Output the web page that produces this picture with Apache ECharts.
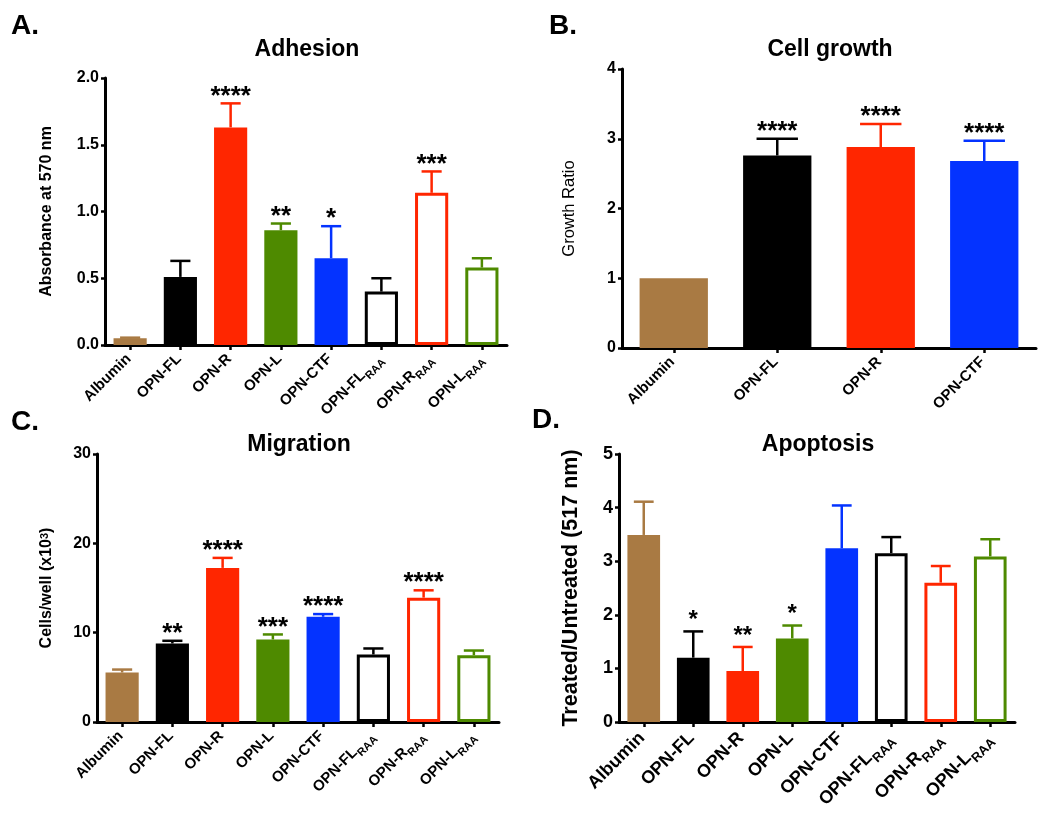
<!DOCTYPE html>
<html>
<head>
<meta charset="utf-8">
<script src="https://cdn.jsdelivr.net/npm/echarts@6/dist/echarts.min.js"></script>
<style>
html,body{margin:0;padding:0;background:#fff;}
#chart{width:1050px;height:824px;}
</style>
</head>
<body>
<div id="chart"></div>
<script>
// ---------- DATA ----------
const categories8 = ['Albumin','OPN-FL','OPN-R','OPN-L','OPN-CTF','OPN-FL_RAA','OPN-R_RAA','OPN-L_RAA'];
const categories4 = ['Albumin','OPN-FL','OPN-R','OPN-CTF'];

const adhesionMean  = [0.05, 0.51, 1.63, 0.86, 0.65, 0.40, 1.14, 0.58];
const adhesionErr   = [0.005, 0.12, 0.18, 0.05, 0.24, 0.10, 0.16, 0.07];
const adhesionStars = ['', '', '****', '**', '*', '', '***', ''];

const growthMean  = [1.0, 2.76, 2.88, 2.68];
const growthErr   = [0, 0.24, 0.33, 0.29];
const growthStars = ['', '****', '****', '****'];

const migrationMean  = [5.54, 8.79, 17.25, 9.24, 11.78, 7.56, 13.92, 7.48];
const migrationErr   = [0.33, 0.30, 1.12, 0.56, 0.30, 0.67, 0.82, 0.52];
const migrationStars = ['', '**', '****', '***', '****', '', '****', ''];

const apoptosisMean  = [3.49, 1.20, 0.95, 1.56, 3.24, 3.15, 2.60, 3.09];
const apoptosisErr   = [0.62, 0.49, 0.45, 0.24, 0.80, 0.30, 0.31, 0.32];
const apoptosisStars = ['', '*', '**', '*', '', '', '', ''];

const ticksA = [0, 2, 0.5];
const ticksB = [0, 4, 1];
const ticksC = [0, 30, 10];
const ticksD = [0, 5, 1];

// ---------- STYLE ----------
const BROWN = '#A97A43', BLACK = '#000000', RED = '#FF2600', GREEN = '#4E8A00', BLUE = '#0433FF';
const colors8 = [BROWN, BLACK, RED, GREEN, BLUE, BLACK, RED, GREEN];
const open8 = [false, false, false, false, false, true, true, true];
const colors4 = [BROWN, BLACK, RED, BLUE];
const open4 = [false, false, false, false];
const FONT = '"Liberation Sans", Arial, Helvetica, sans-serif';

const chart = echarts.init(document.getElementById('chart'), null, {renderer: 'canvas'});

function labelFormatter(v) {
  const parts = v.split('_');
  return parts[1] ? '{m|' + parts[0] + '}{s|' + parts[1] + '}' : '{m|' + parts[0] + '}';
}

function xAxisCfg(gi, cats, fs, margin) {
  return {
    type: 'category', gridIndex: gi, data: cats,
    axisLine: {lineStyle: {color: '#000', width: 3}},
    axisTick: {show: true, alignWithLabel: true, length: 5, lineStyle: {color: '#000', width: 2.5}},
    axisLabel: {
      interval: 0, rotate: 45, margin: margin, color: '#000',
      formatter: labelFormatter,
      rich: {
        m: {fontSize: fs, fontWeight: 'bold', fontFamily: FONT, color: '#000', verticalAlign: 'bottom', padding: [0, 0, Math.round(fs * 0.25), 0]},
        s: {fontSize: Math.round(fs * 0.72), fontWeight: 'bold', fontFamily: FONT, color: '#000', verticalAlign: 'bottom'}
      }
    },
    splitLine: {show: false}
  };
}

function yAxisCfg(gi, t, fs, name, nameGap, nameStyle, fmt) {
  return {
    type: 'value', gridIndex: gi, min: t[0], max: t[1], interval: t[2],
    name: name, nameLocation: 'middle', nameRotate: 90, nameGap: nameGap,
    nameTextStyle: nameStyle,
    axisLine: {show: true, lineStyle: {color: '#000', width: 3}},
    axisTick: {show: true, length: 4, lineStyle: {color: '#000', width: 2.5}},
    axisLabel: {color: '#000', fontSize: fs, fontWeight: 'bold', fontFamily: FONT, margin: 6, formatter: fmt},
    splitLine: {show: false}
  };
}

function barSeries(gi, means, colors, opens) {
  return {
    type: 'bar', xAxisIndex: gi, yAxisIndex: gi, barWidth: '66%',
    data: means.map((v, i) => ({
      value: v,
      itemStyle: opens[i]
        ? {color: '#fff', borderColor: colors[i], borderWidth: 3}
        : {color: colors[i], borderColor: colors[i], borderWidth: 0}
    })),
    silent: true, animation: false
  };
}

function errSeries(gi, means, errs, stars, colors, starSize, starOffset) {
  return {
    type: 'custom', xAxisIndex: gi, yAxisIndex: gi,
    data: means.map((v, i) => [i, v, errs[i]]),
    renderItem: function (params, api) {
      const i = params.dataIndex;
      const x = api.value(0), v = api.value(1), e = api.value(2);
      const base = api.coord([x, v]);
      const top = api.coord([x, v + e]);
      const band = api.size([1, 0])[0];
      const capHalf = band * 0.2;
      const c = colors[i];
      const children = [];
      if (e > 0) {
        children.push({type: 'line', shape: {x1: base[0], y1: base[1], x2: top[0], y2: top[1]},
          style: {stroke: c, lineWidth: 2.5}});
        children.push({type: 'line', shape: {x1: top[0] - capHalf, y1: top[1], x2: top[0] + capHalf, y2: top[1]},
          style: {stroke: c, lineWidth: 2.5}});
      }
      if (stars[i]) {
        children.push({type: 'text', x: top[0], y: top[1] + starOffset,
          style: {text: stars[i], fill: '#000', font: 'bold ' + starSize + 'px ' + FONT, align: 'center', verticalAlign: 'bottom'}});
      }
      return {type: 'group', children: children};
    },
    silent: true, animation: false, z: 3
  };
}

const titleFont = 'bold 23px ' + FONT;
const letterFont = 'bold 28px ' + FONT;

const option = {
  backgroundColor: '#fff',
  animation: false,
  grid: [
    {left: 105, top: 78, width: 402, height: 267},
    {left: 622, top: 69, width: 414, height: 279},
    {left: 97, top: 454, width: 402, height: 268},
    {left: 619, top: 454, width: 396, height: 268}
  ],
  xAxis: [
    xAxisCfg(0, categories8, 15, 13),
    xAxisCfg(1, categories4, 15, 13),
    xAxisCfg(2, categories8, 15, 13),
    xAxisCfg(3, categories8, 18, 15)
  ],
  yAxis: [
    yAxisCfg(0, ticksA, 16, 'Absorbance at 570 nm', 50,
      {fontSize: 16, fontWeight: 'bold', fontFamily: FONT, color: '#000'}, v => v.toFixed(1)),
    yAxisCfg(1, ticksB, 16, 'Growth Ratio', 44,
      {fontSize: 16.5, fontWeight: 'normal', fontFamily: FONT, color: '#000'}, v => String(v)),
    yAxisCfg(2, ticksC, 16, '{a|Cells/well (x10}{b|3}{a|)}', 42,
      {color: '#000', rich: {
        a: {fontSize: 16, fontWeight: 'bold', fontFamily: FONT, color: '#000', verticalAlign: 'bottom'},
        b: {fontSize: 11, fontWeight: 'bold', fontFamily: FONT, color: '#000', verticalAlign: 'top'}
      }}, v => String(v)),
    yAxisCfg(3, ticksD, 18, 'Treated/Untreated (517 nm)', 37,
      {fontSize: 21.5, fontWeight: 'bold', fontFamily: FONT, color: '#000'}, v => String(v))
  ],
  series: [
    barSeries(0, adhesionMean, colors8, open8),
    errSeries(0, adhesionMean, adhesionErr, adhesionStars, colors8, 26, 6),
    barSeries(1, growthMean, colors4, open4),
    errSeries(1, growthMean, growthErr, growthStars, colors4, 26, 6),
    barSeries(2, migrationMean, colors8, open8),
    errSeries(2, migrationMean, migrationErr, migrationStars, colors8, 26, 6),
    barSeries(3, apoptosisMean, colors8, open8),
    errSeries(3, apoptosisMean, apoptosisErr, apoptosisStars, colors8, 24, 1)
  ],
  graphic: [
    {type: 'text', x: 307, y: 50, style: {text: 'Adhesion', font: titleFont, fill: '#000', align: 'center', verticalAlign: 'middle'}},
    {type: 'text', x: 830, y: 50, style: {text: 'Cell growth', font: titleFont, fill: '#000', align: 'center', verticalAlign: 'middle'}},
    {type: 'text', x: 299, y: 445, style: {text: 'Migration', font: titleFont, fill: '#000', align: 'center', verticalAlign: 'middle'}},
    {type: 'text', x: 818, y: 445, style: {text: 'Apoptosis', font: titleFont, fill: '#000', align: 'center', verticalAlign: 'middle'}},
    {type: 'text', x: 11, y: 26, style: {text: 'A.', font: letterFont, fill: '#000', align: 'left', verticalAlign: 'middle'}},
    {type: 'text', x: 549, y: 26, style: {text: 'B.', font: letterFont, fill: '#000', align: 'left', verticalAlign: 'middle'}},
    {type: 'text', x: 11, y: 422, style: {text: 'C.', font: letterFont, fill: '#000', align: 'left', verticalAlign: 'middle'}},
    {type: 'text', x: 532, y: 420, style: {text: 'D.', font: letterFont, fill: '#000', align: 'left', verticalAlign: 'middle'}}
  ]
};
chart.setOption(option);
</script>
</body>
</html>
